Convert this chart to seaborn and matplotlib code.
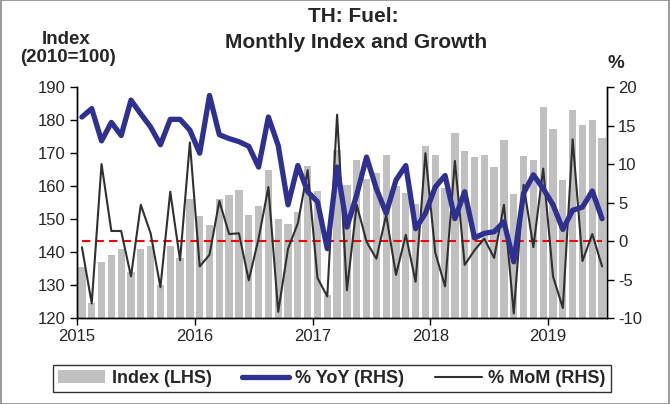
import numpy as np
import pandas as pd
import matplotlib
matplotlib.use("Agg")
import matplotlib.pyplot as plt
import seaborn as sns
from matplotlib.patches import Patch, Rectangle
from matplotlib.lines import Line2D

# ---- data (Jan 2015 - Jun 2019) ----
months = pd.date_range("2015-01-01", "2019-06-01", freq="MS").strftime("%Y-%m").tolist()
index_lhs = [135.4, 124.4, 137.0, 139.0, 140.8, 134.0, 140.8, 141.8, 130.0, 141.9, 138.2, 156.0,
             150.8, 148.2, 156.0, 157.4, 158.9, 151.1, 154.0, 164.8, 149.9, 148.4, 152.1, 166.2,
             158.4, 127.0, 171.0, 160.2, 168.0, 162.0, 163.8, 169.4, 160.0, 158.0, 154.4, 172.0,
             169.4, 159.4, 176.1, 170.7, 168.9, 169.5, 165.9, 173.9, 157.5, 169.2, 167.8, 183.8,
             177.2, 161.7, 183.1, 178.4, 180.1, 174.4]
yoy = [16.1, 17.2, 13.0, 15.4, 13.7, 18.3, 16.5, 14.8, 12.5, 15.8, 15.8, 14.4,
       11.4, 18.9, 13.8, 13.3, 12.9, 12.3, 9.6, 16.1, 12.4, 4.7, 9.8, 6.4,
       5.1, -1.0, 9.6, 1.8, 6.0, 10.9, 6.8, 3.6, 7.9, 9.8, 1.6, 3.6,
       7.0, 8.5, 2.9, 6.4, 0.4, 1.0, 1.2, 2.5, -2.7, 6.2, 8.6, 6.8,
       4.7, 1.5, 4.0, 4.4, 6.5, 2.9]
mom = [-0.8, -8.1, 10.0, 1.3, 1.3, -4.6, 4.7, 1.0, -6.0, 6.4, -2.5, 12.8,
       -3.3, -1.8, 5.2, 0.9, 1.0, -5.1, 0.3, 7.0, -9.2, -1.0, 2.3, 9.2,
       -4.8, -7.2, 16.4, -6.4, 4.7, -0.1, -2.3, 3.4, -4.4, 0.8, -5.3, 11.4,
       -1.5, -5.9, 10.4, -3.1, -1.2, 0.3, -2.2, 4.7, -9.4, 7.3, -0.8, 9.4,
       -4.6, -8.7, 13.2, -2.6, 0.9, -3.3]
year_labels = ["2015", "2016", "2017", "2018", "2019"]
left_ticks = [120, 130, 140, 150, 160, 170, 180, 190]
right_ticks = [-10, -5, 0, 5, 10, 15, 20]

df = pd.DataFrame({"month": months, "index": index_lhs, "yoy": yoy, "mom": mom})
df["pos"] = np.arange(len(df))

sns.set_theme(style="white")
plt.rcParams["font.family"] = ["Liberation Sans", "DejaVu Sans"]

BAR = "#c0c0c0"
BLUE = "#2e3192"
BLACK = "#303030"

fig = plt.figure(figsize=(6.70, 4.04), dpi=100)
ax = fig.add_axes([77 / 670, 1 - 318 / 404, (607 - 77) / 670, (318 - 87) / 404])

sns.barplot(data=df, x="pos", y="index", color=BAR, width=0.74, saturation=1,
            ax=ax, zorder=1)
for p in ax.patches:
    p.set_edgecolor("none")
ax.set_ylim(120, 190)
ax.set_xlim(-0.5, len(df) - 0.5)

ax2 = ax.twinx()
ax2.hlines(0, 0, len(df) - 1, colors="#ff0000", linestyles=(0, (4, 2.5)), linewidth=1.5, zorder=2)
sns.lineplot(data=df, x="pos", y="mom", ax=ax2, color=BLACK, linewidth=1.5, zorder=3)
sns.lineplot(data=df, x="pos", y="yoy", ax=ax2, color=BLUE, linewidth=3.8, zorder=4)
ax2.set_ylim(-10, 20)
ax2.set_xlim(-0.5, len(df) - 0.5)

ax.set_yticks(left_ticks)
ax.set_yticklabels([str(t) for t in left_ticks], fontsize=12)
ax2.set_yticks(right_ticks)
ax2.set_yticklabels([str(t) for t in right_ticks], fontsize=12)
xt = [12 * k - 0.5 for k in range(len(year_labels))]
ax.set_xticks(xt)
ax.set_xticklabels(year_labels, fontsize=12)
for a in (ax, ax2):
    a.set_xlabel("")
    a.set_ylabel("")
    a.spines["top"].set_visible(False)
    for s in ("left", "right", "bottom"):
        a.spines[s].set_color("black")
        a.spines[s].set_linewidth(1.0)
ax.tick_params(axis="y", direction="out", length=5, width=1, color="black", pad=3, left=True)
ax.tick_params(axis="x", direction="out", length=5, width=1, color="black", pad=3, bottom=True)
ax2.tick_params(axis="y", direction="out", length=5, width=1, color="black", pad=3, right=True)

# titles
fig.text(0.527, 1 - 16 / 404, "TH: Fuel:", ha="center", va="center", fontsize=15, fontweight="bold")
fig.text(0.532, 1 - 43 / 404, "Monthly Index and Growth", ha="center", va="center", fontsize=15, fontweight="bold")
fig.text(66 / 670, 1 - 39 / 404, "Index", ha="center", va="center", fontsize=13.5, fontweight="bold")
fig.text(68 / 670, 1 - 58 / 404, "(2010=100)", ha="center", va="center", fontsize=13.5, fontweight="bold")
fig.text(616 / 670, 1 - 63 / 404, "%", ha="center", va="center", fontsize=13.5, fontweight="bold")

handles = [Patch(facecolor=BAR, edgecolor="none"),
           Line2D([], [], color=BLUE, linewidth=3.8),
           Line2D([], [], color=BLACK, linewidth=1.5)]
labels = ["Index (LHS)", "% YoY (RHS)", "% MoM (RHS)"]
leg = fig.legend(handles, labels, loc="center",
                 bbox_to_anchor=(53 / 670, 1 - 393 / 404, 558 / 670, 29 / 404),
                 mode="expand", ncol=3, frameon=True, fancybox=False, edgecolor="black",
                 prop={"weight": "bold", "size": 13}, handlelength=2.6, columnspacing=1.0,
                 handletextpad=0.35, borderpad=0.3, borderaxespad=0)
leg.get_frame().set_linewidth(1.0)

fig.patches.append(Rectangle((0.001, 0.001), 0.998, 0.998, transform=fig.transFigure,
                             fill=False, edgecolor="#8a8a8a", linewidth=1.2))

fig.savefig("out.png", dpi=100)
